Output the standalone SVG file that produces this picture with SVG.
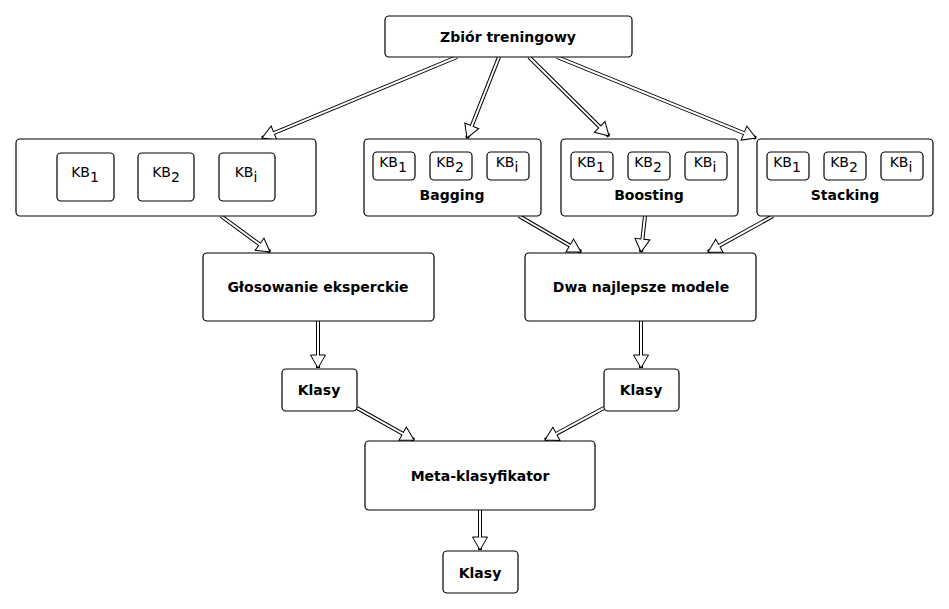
<svg xmlns="http://www.w3.org/2000/svg" width="949" height="609" viewBox="0 0 949 609">
<style>
.box{fill:#fff;stroke:#000;stroke-width:1.2}
.t{font-family:"DejaVu Sans",sans-serif;font-weight:bold;font-size:14px;text-anchor:middle;fill:#000}
.kb{font-family:"DejaVu Sans",sans-serif;font-size:14px;text-anchor:middle;fill:#000}
.o{stroke:#000;stroke-width:4;fill:none;marker-end:url(#ah)}
.i{stroke:#fff;stroke-width:2;fill:none}
</style>
<defs>
<marker id="ah" markerUnits="userSpaceOnUse" markerWidth="16" markerHeight="16" refX="13" refY="7.5" orient="auto" overflow="visible">
<path d="M0,0 L13,7.5 L0,15 Z" fill="#fff" stroke="#000" stroke-width="1"/>
</marker>
</defs>
<rect width="949" height="609" fill="#fff"/>
<g id="connectors">
<path class="o" d="M457,57 L262,138"/><path class="i" d="M457,57 L273.1,133.4"/>
<path class="o" d="M499,57 L467,138"/><path class="i" d="M499,57 L471.4,126.8"/>
<path class="o" d="M529,57 L609,136"/><path class="i" d="M529,57 L600.5,127.6"/>
<path class="o" d="M557,57 L756,138"/><path class="i" d="M557,57 L744.9,133.5"/>
<path class="o" d="M221,216 L270,252"/><path class="i" d="M221,216 L260.3,244.9"/>
<path class="o" d="M519,216 L581,252"/><path class="i" d="M519,216 L570.6,246"/>
<path class="o" d="M645,216 L641,252"/><path class="i" d="M645,216 L642.3,240.1"/>
<path class="o" d="M773,216 L708,252"/><path class="i" d="M773,216 L718.5,246.2"/>
<path class="o" d="M318,321 L318,368"/><path class="i" d="M318,321 L318,356"/>
<path class="o" d="M641,321 L641,368"/><path class="i" d="M641,321 L641,356"/>
<path class="o" d="M357,408 L414,440"/><path class="i" d="M357,408 L403.5,434.1"/>
<path class="o" d="M604,408 L545,440"/><path class="i" d="M604,408 L555.5,434.1"/>
<path class="o" d="M480,510 L480,550"/><path class="i" d="M480,510 L480,538"/>
</g>
<g id="zbior"><rect class="box" x="385" y="16" width="247" height="41" rx="4"/><text class="t" x="508" y="42">Zbiór treningowy</text></g>
<g id="grupa">
<rect class="box" x="16" y="139" width="300" height="77" rx="4"/>
<rect class="box" x="57" y="153" width="57" height="48" rx="4"/><text class="kb" x="85" y="177">KB<tspan dy="5">1</tspan></text>
<rect class="box" x="138" y="153" width="56" height="48" rx="4"/><text class="kb" x="166" y="177">KB<tspan dy="5">2</tspan></text>
<rect class="box" x="219" y="153" width="56" height="48" rx="4"/><text class="kb" x="246" y="177">KB<tspan dy="5">i</tspan></text>
</g>
<g id="bagging">
<rect class="box" x="364" y="139" width="177" height="77" rx="4"/>
<rect class="box" x="373" y="152" width="42" height="28" rx="4"/><text class="kb" x="393" y="167">KB<tspan dy="5">1</tspan></text>
<rect class="box" x="430" y="152" width="42" height="28" rx="4"/><text class="kb" x="450" y="167">KB<tspan dy="5">2</tspan></text>
<rect class="box" x="487" y="152" width="42" height="28" rx="4"/><text class="kb" x="507" y="167">KB<tspan dy="5">i</tspan></text>
<text class="t" x="452" y="200">Bagging</text>
</g>
<g id="boosting">
<rect class="box" x="561" y="139" width="177" height="77" rx="4"/>
<rect class="box" x="571" y="152" width="42" height="28" rx="4"/><text class="kb" x="591" y="167">KB<tspan dy="5">1</tspan></text>
<rect class="box" x="628" y="152" width="42" height="28" rx="4"/><text class="kb" x="648" y="167">KB<tspan dy="5">2</tspan></text>
<rect class="box" x="685" y="152" width="42" height="28" rx="4"/><text class="kb" x="705" y="167">KB<tspan dy="5">i</tspan></text>
<text class="t" x="649" y="200">Boosting</text>
</g>
<g id="stacking">
<rect class="box" x="757" y="139" width="176" height="77" rx="4"/>
<rect class="box" x="767" y="152" width="42" height="28" rx="4"/><text class="kb" x="787" y="167">KB<tspan dy="5">1</tspan></text>
<rect class="box" x="824" y="152" width="42" height="28" rx="4"/><text class="kb" x="844" y="167">KB<tspan dy="5">2</tspan></text>
<rect class="box" x="881" y="152" width="42" height="28" rx="4"/><text class="kb" x="901" y="167">KB<tspan dy="5">i</tspan></text>
<text class="t" x="845" y="200">Stacking</text>
</g>
<g id="glosowanie"><rect class="box" x="203" y="253" width="231" height="68" rx="4"/><text class="t" x="318" y="292">Głosowanie eksperckie</text></g>
<g id="dwa"><rect class="box" x="525" y="253" width="231" height="68" rx="4"/><text class="t" x="641" y="292">Dwa najlepsze modele</text></g>
<g id="klasy1"><rect class="box" x="282" y="369" width="75" height="42" rx="4"/><text class="t" x="319" y="395">Klasy</text></g>
<g id="klasy2"><rect class="box" x="604" y="369" width="75" height="42" rx="4"/><text class="t" x="641" y="395">Klasy</text></g>
<g id="meta"><rect class="box" x="365" y="441" width="230" height="69" rx="4"/><text class="t" x="480" y="481">Meta-klasyfikator</text></g>
<g id="klasy3"><rect class="box" x="443" y="551" width="75" height="42" rx="4"/><text class="t" x="480" y="578">Klasy</text></g>
</svg>
